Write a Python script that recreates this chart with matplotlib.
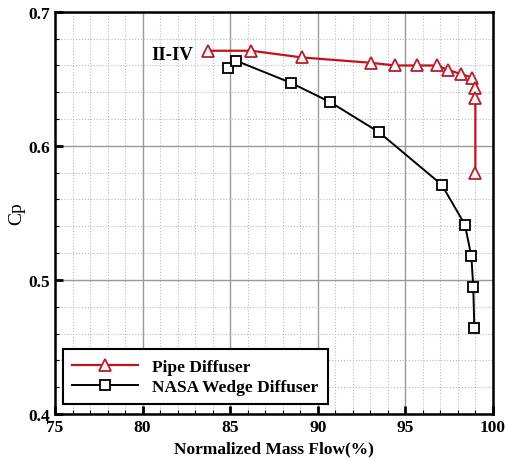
import numpy as np
import matplotlib.pyplot as plt
from matplotlib.ticker import MultipleLocator

# Pipe diffuser (II-IV)
pipe_flow = [83.73, 86.2, 89.1, 93.03, 94.42, 95.65, 96.79, 97.45, 98.16, 98.82, 98.97, 99.0, 99.0]
pipe_cp = [0.671, 0.671, 0.666, 0.662, 0.660, 0.660, 0.660, 0.6567, 0.6537, 0.651, 0.643, 0.6356, 0.580]

# NASA wedge diffuser
wedge_flow = [84.87, 85.31, 88.48, 90.72, 93.5, 97.08, 98.4, 98.77, 98.88, 98.94]
wedge_cp = [0.6582, 0.6637, 0.647, 0.6326, 0.6102, 0.571, 0.5413, 0.5177, 0.495, 0.4642]

font = 'Liberation Serif'

fig = plt.figure(figsize=(5.05, 4.6), dpi=100)
ax = fig.add_axes([0.109, 0.098, 0.867, 0.874])

ax.plot(pipe_flow, pipe_cp, color='#c0141c', lw=1.6, marker='^', ms=8,
        mfc='#fff4f4', mec='#b02030', mew=1.3, label='Pipe Diffuser', zorder=3)
ax.plot(wedge_flow, wedge_cp, color='black', lw=1.4, marker='s', ms=6.5,
        mfc='white', mec='black', mew=1.3, label='NASA Wedge Diffuser', zorder=3)

ax.set_xlim(75, 100)
ax.set_ylim(0.4, 0.7)
ax.xaxis.set_major_locator(MultipleLocator(5))
ax.xaxis.set_minor_locator(MultipleLocator(1))
ax.yaxis.set_major_locator(MultipleLocator(0.1))
ax.yaxis.set_minor_locator(MultipleLocator(0.02))

ax.grid(which='major', color='#999999', lw=1.0, ls='-')
ax.grid(which='minor', color='#bbbbbb', lw=0.8, ls=':')
ax.set_axisbelow(True)

ax.tick_params(which='major', direction='in', length=6, width=2, top=False, right=False)
ax.tick_params(which='minor', direction='in', length=3, width=0.8, top=False, right=False)
for s in ax.spines.values():
    s.set_linewidth(1.8)

ax.set_xticklabels([f'{v:g}' for v in ax.get_xticks()])
for lab in ax.get_xticklabels() + ax.get_yticklabels():
    lab.set_fontfamily(font)
    lab.set_fontweight('bold')
    lab.set_fontsize(12.5)

ax.set_xlabel('Normalized Mass Flow(%)', fontfamily=font, fontweight='bold', fontsize=12.5)
ax.set_ylabel('Cp', fontfamily=font, fontsize=14, labelpad=2)

ax.text(82.9, 0.6685, 'II-IV', fontfamily=font, fontweight='bold', fontsize=13.5,
        ha='right', va='center')

leg = ax.legend(loc='lower left', bbox_to_anchor=(0.018, 0.024), borderaxespad=0,
                fancybox=False, edgecolor='black', framealpha=1,
                handlelength=3.8, handletextpad=0.8,
                prop={'family': font, 'weight': 'bold', 'size': 12.5},
                borderpad=0.55, labelspacing=0.2)
leg.get_frame().set_linewidth(1.5)

fig.savefig('out.png', dpi=100)
